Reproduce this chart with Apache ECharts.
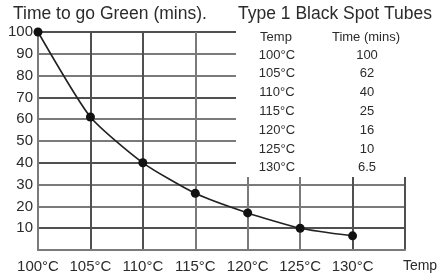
<!DOCTYPE html>
<html>
<head>
<meta charset="utf-8">
<style>
  html, body { margin: 0; padding: 0; background: #fff; }
  #chart { width: 444px; height: 279px; }
</style>
<script src="https://cdn.jsdelivr.net/npm/echarts@6/dist/echarts.min.js"></script>
</head>
<body>
<div id="chart"></div>
<script>
// temperatures (x) and plotted time to go green (y)
const temps = [100, 105, 110, 115, 120, 125, 130];
const greenTimes = [100, 61, 40, 26, 17, 10, 6.5];

// the little table in the top right
const tableTemps = ["100°C", "105°C", "110°C", "115°C", "120°C", "125°C", "130°C"];
const tableTimes = ["100", "62", "40", "25", "16", "10", "6.5"];

const FONT = "Liberation Sans, Arial, sans-serif";
const TEXT = "#2b2b2b";
const GRID = "#7a7a7a";
const GRID_DARK = "#505050";

const chart = echarts.init(document.getElementById("chart"));

const tableText = [];
tableText.push({ type: "text", x: 276, y: 37, z: 101, style: { text: "Temp", font: `13px ${FONT}`, fill: TEXT, textAlign: "center", textVerticalAlign: "middle" } });
tableText.push({ type: "text", x: 366, y: 37, z: 101, style: { text: "Time (mins)", font: `13px ${FONT}`, fill: TEXT, textAlign: "center", textVerticalAlign: "middle" } });
tableTemps.forEach((t, i) => {
  const y = 55 + i * 18.8;
  tableText.push({ type: "text", x: 277, y, z: 101, style: { text: t, font: `13px ${FONT}`, fill: TEXT, textAlign: "center", textVerticalAlign: "middle" } });
  tableText.push({ type: "text", x: 367, y, z: 101, style: { text: tableTimes[i], font: `13px ${FONT}`, fill: TEXT, textAlign: "center", textVerticalAlign: "middle" } });
});

chart.setOption({
  animation: false,
  backgroundColor: "#fff",
  grid: { left: 38, right: 39, top: 32, bottom: 29, containLabel: false },
  xAxis: {
    type: "value",
    min: 100,
    max: 135,
    interval: 5,
    axisLine: { show: true, lineStyle: { color: GRID, width: 2 } },
    axisTick: { show: false },
    axisLabel: {
      margin: 9,
      fontSize: 15,
      fontFamily: FONT,
      color: TEXT,
      showMaxLabel: true,
      formatter: (v) => (v <= 130 ? `${v}°C` : ""),
    },
    splitLine: {
      show: true,
      lineStyle: { color: [GRID, GRID_DARK, GRID_DARK, GRID, GRID, GRID, GRID_DARK, GRID_DARK], width: 2 },
    },
  },
  yAxis: {
    type: "value",
    min: 0,
    max: 100,
    interval: 10,
    axisLine: { show: true, lineStyle: { color: GRID, width: 2 } },
    axisTick: { show: false },
    axisLabel: {
      margin: 5,
      fontSize: 15,
      fontFamily: FONT,
      color: TEXT,
      showMaxLabel: true,
      formatter: (v) => (v === 0 ? "" : String(v)),
    },
    splitLine: {
      show: true,
      lineStyle: { color: [GRID, GRID_DARK, GRID], width: 2 },
    },
  },
  series: [
    {
      type: "line",
      data: temps.map((t, i) => [t, greenTimes[i]]),
      smooth: 0.2,
      symbol: "circle",
      symbolSize: 9,
      itemStyle: { color: "#111" },
      lineStyle: { color: "#222", width: 1.6 },
      z: 5,
    },
  ],
  graphic: [
    { type: "rect", shape: { x: 236, y: 0, width: 208, height: 177 }, style: { fill: "#fff" }, z: 100 },
    { type: "text", x: 13, y: 14, z: 101, style: { text: "Time to go Green (mins).", font: `17.5px ${FONT}`, fill: TEXT, textVerticalAlign: "middle" } },
    { type: "text", x: 238, y: 14, z: 101, style: { text: "Type 1 Black Spot Tubes", font: `17.5px ${FONT}`, fill: TEXT, textVerticalAlign: "middle" } },
    { type: "text", x: 420, y: 266, z: 101, style: { text: "Temp", font: `14px ${FONT}`, fill: TEXT, textAlign: "center", textVerticalAlign: "middle" } },
    ...tableText,
  ],
});
</script>
</body>
</html>
